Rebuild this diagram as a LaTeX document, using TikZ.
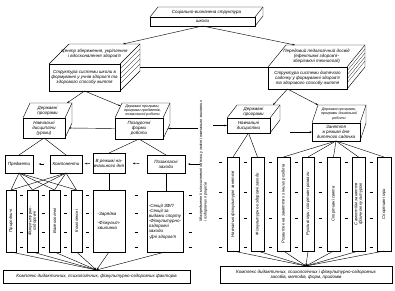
\documentclass[tikz,border=0pt]{standalone}
\usepackage{fontspec}
\setmainfont{Liberation Sans}
\usepackage{tikz}
\usetikzlibrary{arrows.meta, positioning, calc}

\begin{document}
\begin{tikzpicture}[x=0.05cm, y=-0.05cm, line width=0.6pt,
  font=\fontsize{6.4}{7.3}\selectfont\itshape,
  face/.style={draw, anchor=north west, inner sep=1pt, outer sep=0pt, align=center},
  lbl/.style={inner sep=0pt, align=center},
  smalltxt/.style={font=\fontsize{5.2}{5.8}\selectfont\itshape},
  vtxt/.style={rotate=90, inner sep=0pt, align=center, font=\fontsize{6}{6.6}\selectfont\itshape},
  arr/.style={-{Stealth[length=3.5pt, width=2.4pt]}},
  dashmark/.style={line width=1pt}]
  \useasboundingbox (0,0) rectangle (395,291);

  % top slab
  \node[face, minimum width=5.25cm, minimum height=0.45cm] (top) at (150,17) {школи};
  \draw (top.north west) -- ++(8,-10) -- ($(top.north east)+(8,-10)$)
    -- ($(top.south east)+(8,-10)$) -- (top.south east);
  \draw (top.north east) -- ++(8,-10);
  \node[lbl] (toptxt) at ($(top.north)+(4,-5)$) {Соціально-визначена структура};

  % left slab (school)
  \node[face, minimum width=3.55cm, minimum height=1.35cm] (lbox) at (49,64)
    {Структура системи школи в\\ формуванні у учнів здоров'я та\\ здорового способу життя};
  \draw (lbox.north west) -- ++(20,-20) -- ($(lbox.north east)+(20,-20)$)
    -- ($(lbox.south east)+(20,-20)$) -- (lbox.south east);
  \draw (lbox.north east) -- ++(20,-20);
  \foreach \t in {5,10,15,20}
    \draw[line width=0.3pt] ($(lbox.north east)+(0,\t)$) -- ++(20,-20);
  \node[lbl] (ltop) at ($(lbox.north)+(10,-10)$)
    {Центр збереження, укріплення\\ і вдосконалення здоров'я};

  % right slab (kindergarten)
  \node[face, minimum width=3.95cm, minimum height=1.1cm] (rbox) at (268,67)
    {Структура системи дитячого\\ садочку у формуванні здоров'я\\ та здорового способу життя};
  \draw (rbox.north west) -- ++(18,-22) -- ($(rbox.north east)+(18,-22)$)
    -- ($(rbox.south east)+(18,-22)$) -- (rbox.south east);
  \draw (rbox.north east) -- ++(18,-22);
  \foreach \t in {4,8,12,16}
    \draw[line width=0.3pt] ($(rbox.north east)+(0,\t)$) -- ++(18,-22);
  \node[lbl] (rtop) at ($(rbox.north)+(9,-11)$)
    {Передовий педагогічний досвід\\ (ефективні здоров'я-\\зберігаючі технології)};

  \draw[arr] (top.south) -- ($(lbox.north east)+(3,-20)$);
  \draw[arr] (top.south) -- ($(rbox.north west)+(27,-22)$);
  \coordinate (lback) at ($(lbox.north east)+(20,3)$);
  \draw (lback) -- (rbox.north west);

  % second level, school side
  \node[face, minimum width=2.1cm, minimum height=1cm] (bA) at (23,118)
    {Навчальні\\ дисципліни\\ (уроки)};
  \draw (bA.north west) -- ++(7,-15) -- ($(bA.north east)+(7,-15)$)
    -- ($(bA.south east)+(7,-15)$) -- (bA.south east);
  \draw (bA.north east) -- ++(7,-15);
  \node[lbl] (atop) at ($(bA.north)+(3.5,-7.5)$) {Державні\\ програми};

  \node[face, minimum width=2.4cm, minimum height=1.05cm] (bB) at (115,118)
    {Позаурочні\\ форми\\ роботи};
  \draw (bB.north west) -- ++(7,-15) -- ($(bB.north east)+(7,-15)$)
    -- ($(bB.south east)+(7,-15)$) -- (bB.south east);
  \draw (bB.north east) -- ++(7,-15);
  \node[lbl, smalltxt] (btop) at ($(bB.north)+(3.5,-7.5)$)
    {Державні програми,\\ програми предметів,\\ позакласної роботи};

  % second level, kindergarten side
  \node[face, minimum width=2.15cm, minimum height=0.75cm] (bC) at (227,118)
    {Навчальні\\ дисципліни};
  \draw (bC.north west) -- ++(10,-13) -- ($(bC.north east)+(10,-13)$)
    -- ($(bC.south east)+(10,-13)$) -- (bC.south east);
  \draw (bC.north east) -- ++(10,-13);
  \node[lbl] (ctop) at ($(bC.north)+(5,-6.5)$) {Державні\\ програми};

  \node[face, minimum width=2.4cm, minimum height=0.9cm] (bD) at (312,123)
    {Заняття\\ в режимі дня\\ дитячого садочка};
  \draw (bD.north west) -- ++(6,-18) -- ($(bD.north east)+(6,-18)$)
    -- ($(bD.south east)+(6,-18)$) -- (bD.south east);
  \draw (bD.north east) -- ++(6,-18);
  \node[lbl, smalltxt] (dtop) at ($(bD.north)+(3,-9)$)
    {Державні програми,\\ програми дошкільної\\ роботи};

  \draw[arr] (lbox.south) -- ($(bA.north east)+(2,-15)$);
  \draw[arr] (lbox.south) -- ($(bB.north west)+(5.6,-12)$);
  \coordinate (rfoot) at ($(rbox.south)+(-20,0)$);
  \draw[arr] (rfoot) -- ($(bC.north east)+(3,-13)$);
  \draw[arr] (rfoot) -- ($(bD.north west)+(6,-18)$);

  \coordinate (inB) at ($(bB.east)+(35,0)$);
  \draw[arr] (inB) -- ($(bB.east)+(5,0)$);
  \draw[arr] (bB.west) -- ($(bA.east)+(4,0)$);
  \coordinate (inC) at ($(bC.west)+(-14,0)$);
  \draw[arr] (inC) -- (bC.west);
  \coordinate (inD) at ($(bD.west)+(-22,0)$);
  \draw[arr] (inD) -- (bD.west);

  % third level, school side
  \node[face, minimum width=1.4cm, minimum height=0.9cm] (p1) at (5,155) {Предмети};
  \node[face, minimum width=1.6cm, minimum height=0.9cm] (p2) at (50,155) {Компоненти};
  \node[face, minimum width=1.6cm, minimum height=1cm] (p3) at (93,153)
    {В режимі на-\\вчального дня};
  \node[face, minimum width=1.9cm, minimum height=0.9cm] (p4) at (147,155)
    {Позакласні\\ заходи};
  \draw (bA.south) -- (p1.north);
  \draw (bA.south) -- (p2.north);
  \draw (bB.south) -- (p3.north);
  \draw (bB.south) -- (p4.north);
  \draw[arr, shorten <=8pt, shorten >=8pt] (p2.west) -- (p1.east);
  \draw[arr, shorten <=4pt, shorten >=4pt] (p3.west) -- (p2.east);
  \draw[arr, shorten <=11pt, shorten >=11pt] (p4.west) -- (p3.east);
  \coordinate (inP) at ($(p4.east)+(15,0)$);
  \draw[arr, shorten >=4pt] (inP) -- (p4.east);

  % vertical boxes, school side
  \foreach \n/\x/\w/\t in {v1/6/10/Природничі, v2/27/11/{Фізкультурно-\\оздоровчі},
      v3/49/11/Валеологічні, v4/71/11/Комплексні}{
    \node[draw, anchor=north west, inner sep=0pt, outer sep=0pt,
      minimum width=\w*0.05cm, minimum height=3.1cm] (\n) at (\x,190) {};
    \node[vtxt] (t\n) at (\n) {\t};
  }
  \node[face, minimum width=1.6cm, minimum height=3.1cm, align=left] (v5) at (93,190)
    {-Зарядка\\[5pt] -Фізкульт-\\ хвилинка};
  \node[face, minimum width=1.8cm, minimum height=3.05cm, align=left] (v6) at (147,191)
    {-Секції ЗФП\\ -Секції за\\ видами спорту\\ -Фізкультурно-\\ оздоровчі\\ заходи\\ -Дні здоров'я};
  \foreach \v in {v1,v2,v3,v4}{
    \draw (p1.south) -- (\v.north);
    \draw (p2.south) -- (\v.north);
  }
  \draw (p3.south) -- (p3.south |- v5.north);
  \draw (p4.south) -- (p4.south |- v6.north);
  \foreach \x in {21.5,43.5,65.5,87.5,136,190}
    \foreach \y in {195,213,232,247}
      \draw[dashmark] (\x-1.5,\y) -- (\x+1.5,\y);

  % vertical boxes, kindergarten side
  \foreach \n/\x/\w/\t in {r1/227/12/Навчальні фізкультурні заняття,
      r2/251/13/Фізкультурно-оздоровчі заходи,
      r3/277/13/Розвиток на заняттях з інших розділів,
      r4/302/12/{Рухливі ігри, спортивні розваги},
      r5/327/13/Спортивні свята,
      r6/352/13/{Самостійні заняття\\ фізичною культурою},
      r7/377/14/Спортивні ігри}{
    \node[draw, anchor=north west, inner sep=0pt, outer sep=0pt,
      minimum width=\w*0.05cm, minimum height=4.7cm] (\n) at (\x,157) {};
    \node[vtxt] (t\n) at (\n) {\t};
  }
  \draw (bC.south) -- (r1.north);
  \draw (bC.south) -- (r2.north);
  \foreach \v in {r3,r4,r5,r6,r7}
    \draw (bD.south) -- (\v.north);
  \foreach \x in {220,245,270.5,296,320,346,371}
    \foreach \y in {162,192,218,247}
      \draw[dashmark] (\x-1.5,\y) -- (\x+1.5,\y);

  % links between the two halves
  \node[lbl, rotate=90, anchor=north west, align=left,
    font=\fontsize{5.6}{6.6}\selectfont\itshape] (links) at (199,222)
    {Міжпредметні і міжсистемні зв'язки у змісті навчально-виховних\\ і оздоровчих процесів};

  % bottom complexes
  \node[face, minimum width=9.35cm, minimum height=0.65cm] (bl) at (3,270)
    {Комплекс дидактичних, психологічних, фізкультурно-оздоровчих факторів};
  \node[face, minimum width=8.6cm, minimum height=0.85cm] (br) at (220,266)
    {Комплекс дидактичних, психологічних і фізкультурно-оздоровчих\\ засобів, методів, форм, прийомів};
  \foreach \v in {v1,v2,v3,v4,v5,v6}
    \draw[arr] (\v.south) -- (bl.north);
  \foreach \v in {r1,r2,r3,r4,r5,r6,r7}
    \draw[arr] (\v.south) -- (br.north);
\end{tikzpicture}
\end{document}
